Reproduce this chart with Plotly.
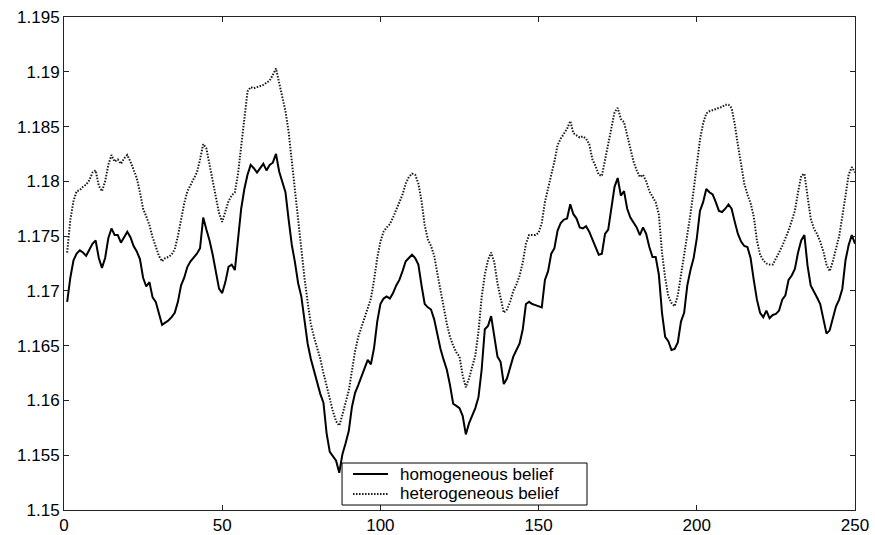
import plotly.graph_objects as go

# time index of the simulation
periods = list(range(1, 251))

# price path under homogeneous beliefs
homogeneous = [
    1.1690, 1.1712, 1.1728, 1.1734, 1.1737, 1.1735, 1.1732, 1.1737, 1.1743, 1.1746,
    1.1730, 1.1721, 1.1730, 1.1748, 1.1757, 1.1751, 1.1751, 1.1744, 1.1749, 1.1754,
    1.1749, 1.1741, 1.1736, 1.1729, 1.1712, 1.1704, 1.1708, 1.1694, 1.1690, 1.1680,
    1.1669, 1.1671, 1.1673, 1.1676, 1.1680, 1.1690, 1.1705, 1.1712, 1.1722, 1.1727,
    1.1730, 1.1734, 1.1739, 1.1767, 1.1756, 1.1746, 1.1733, 1.1716, 1.1702, 1.1698,
    1.1708, 1.1722, 1.1724, 1.1719, 1.1750, 1.1775, 1.1793, 1.1806, 1.1815, 1.1812,
    1.1808, 1.1812, 1.1816, 1.1810, 1.1815, 1.1817, 1.1825, 1.1809, 1.1800, 1.1790,
    1.1765, 1.1742, 1.1726, 1.1707, 1.1695, 1.1672, 1.1652, 1.1638, 1.1627, 1.1615,
    1.1606, 1.1598, 1.1570, 1.1553, 1.1549, 1.1545, 1.1534, 1.1551, 1.1561, 1.1572,
    1.1594, 1.1607, 1.1614, 1.1622, 1.1628, 1.1637, 1.1633, 1.1648, 1.1672, 1.1688,
    1.1693, 1.1695, 1.1693, 1.1698, 1.1705, 1.1710, 1.1718, 1.1727, 1.1730, 1.1733,
    1.1730, 1.1724, 1.1705, 1.1688, 1.1685, 1.1683, 1.1674, 1.1660, 1.1647, 1.1637,
    1.1628, 1.1614, 1.1597, 1.1595, 1.1593, 1.1586, 1.1569, 1.1579, 1.1587, 1.1593,
    1.1603, 1.1628, 1.1665, 1.1668, 1.1677, 1.1660, 1.1640, 1.1635, 1.1615, 1.1620,
    1.1630, 1.1640, 1.1646, 1.1652, 1.1665, 1.1688, 1.1690, 1.1688, 1.1687, 1.1686,
    1.1685, 1.1710, 1.1718, 1.1734, 1.1739, 1.1755, 1.1762, 1.1765, 1.1766, 1.1779,
    1.1770, 1.1766, 1.1758, 1.1757, 1.1759, 1.1754, 1.1747, 1.1740, 1.1733, 1.1734,
    1.1752, 1.1756, 1.1777, 1.1795, 1.1803, 1.1787, 1.1791, 1.1775, 1.1767, 1.1762,
    1.1758, 1.1751, 1.1758, 1.1752, 1.1740, 1.1731, 1.1731, 1.1715, 1.1680, 1.1658,
    1.1654, 1.1646, 1.1647, 1.1653, 1.1672, 1.1680, 1.1705, 1.1719, 1.1730, 1.1748,
    1.1773, 1.1781, 1.1793, 1.1790, 1.1788, 1.1781, 1.1773, 1.1772, 1.1775, 1.1779,
    1.1775, 1.1763, 1.1752, 1.1745, 1.1741, 1.1740, 1.1730, 1.1710, 1.1692, 1.1680,
    1.1676, 1.1682, 1.1675, 1.1678, 1.1679, 1.1682, 1.1692, 1.1696, 1.1710, 1.1714,
    1.1720, 1.1735, 1.1746, 1.1751, 1.1723, 1.1705, 1.1700, 1.1694, 1.1688, 1.1675,
    1.1661, 1.1664, 1.1675, 1.1686, 1.1692, 1.1702, 1.1728, 1.1742, 1.1751, 1.1743,
]

# price path under heterogeneous beliefs
heterogeneous = [
    1.1735, 1.1765, 1.1782, 1.1791, 1.1792, 1.1795, 1.1797, 1.1801, 1.1808, 1.1810,
    1.1796, 1.1791, 1.1800, 1.1815, 1.1824, 1.1818, 1.1820, 1.1816, 1.1821, 1.1824,
    1.1818, 1.1811, 1.1803, 1.1790, 1.1775, 1.1768, 1.1760, 1.1749, 1.1740, 1.1732,
    1.1727, 1.1730, 1.1731, 1.1733, 1.1738, 1.1750, 1.1765, 1.1780, 1.1791, 1.1797,
    1.1802, 1.1808, 1.1820, 1.1834, 1.1830, 1.1815, 1.1798, 1.1786, 1.1771, 1.1763,
    1.1772, 1.1782, 1.1787, 1.1790, 1.1807, 1.1832, 1.1862, 1.1882, 1.1886, 1.1885,
    1.1886, 1.1887, 1.1888, 1.1890, 1.1892, 1.1897, 1.1903, 1.1890, 1.1876, 1.1864,
    1.1845, 1.1818, 1.1790, 1.1762, 1.1736, 1.1712, 1.1690, 1.1670, 1.1658, 1.1648,
    1.1638, 1.1625, 1.1613, 1.1601, 1.1590, 1.1581, 1.1577, 1.1587, 1.1598, 1.1609,
    1.1627, 1.1645, 1.1658, 1.1667, 1.1675, 1.1683, 1.1693, 1.1710, 1.1730, 1.1745,
    1.1754, 1.1758, 1.1761, 1.1767, 1.1774, 1.1781, 1.1788, 1.1798, 1.1804, 1.1807,
    1.1806, 1.1798, 1.1782, 1.1760, 1.1747, 1.1741, 1.1732, 1.1716, 1.1700, 1.1685,
    1.1670, 1.1658, 1.1650, 1.1644, 1.1640, 1.1623, 1.1612, 1.1620, 1.1630, 1.1641,
    1.1663, 1.1694, 1.1715, 1.1728, 1.1735, 1.1726, 1.1707, 1.1692, 1.1680, 1.1683,
    1.1690, 1.1700, 1.1706, 1.1714, 1.1726, 1.1743, 1.1751, 1.1751, 1.1751, 1.1753,
    1.1762, 1.1781, 1.1795, 1.1806, 1.1818, 1.1833, 1.1839, 1.1843, 1.1848, 1.1855,
    1.1844, 1.1842, 1.1840, 1.1841, 1.1839, 1.1834, 1.1820, 1.1814, 1.1806, 1.1805,
    1.1820, 1.1834, 1.1848, 1.1863, 1.1867, 1.1857, 1.1854, 1.1842, 1.1829, 1.1818,
    1.1810, 1.1804, 1.1806, 1.1800, 1.1791, 1.1786, 1.1781, 1.1770, 1.1735, 1.1712,
    1.1695, 1.1689, 1.1686, 1.1696, 1.1714, 1.1730, 1.1750, 1.1770, 1.1792, 1.1818,
    1.1838, 1.1853, 1.1862, 1.1864, 1.1865, 1.1866, 1.1867, 1.1868, 1.1870, 1.1870,
    1.1867, 1.1852, 1.1833, 1.1816, 1.1798, 1.1788, 1.1780, 1.1768, 1.1746, 1.1733,
    1.1728, 1.1725, 1.1724, 1.1724, 1.1729, 1.1735, 1.1741, 1.1748, 1.1755, 1.1764,
    1.1773, 1.1790, 1.1805, 1.1807, 1.1786, 1.1766, 1.1757, 1.1752, 1.1745, 1.1736,
    1.1724, 1.1718, 1.1727, 1.1739, 1.1750, 1.1768, 1.1788, 1.1806, 1.1813, 1.1808,
]

series_names = ["homogeneous belief", "heterogeneous belief"]

x_ticks = [0, 50, 100, 150, 200, 250]
x_tick_labels = ["0", "50", "100", "150", "200", "250"]
y_ticks = [1.15, 1.155, 1.16, 1.165, 1.17, 1.175, 1.18, 1.185, 1.19, 1.195]
y_tick_labels = ["1.15", "1.155", "1.16", "1.165", "1.17", "1.175", "1.18", "1.185", "1.19", "1.195"]

FONT = "Liberation Sans, Arial, sans-serif"
solid_style = dict(color="black", width=2)
dotted_style = dict(color="#1a1a1a", width=2, dash="1.5px,1.5px")

fig = go.Figure()
fig.add_trace(go.Scatter(x=periods, y=homogeneous, mode="lines",
                         name=series_names[0], line=solid_style))
fig.add_trace(go.Scatter(x=periods, y=heterogeneous, mode="lines",
                         name=series_names[1], line=dotted_style))

axis_common = dict(
    showline=True, linecolor="#222222", linewidth=1, mirror="ticks",
    ticks="inside", ticklen=5, tickcolor="#222222", showgrid=False, zeroline=False,
    tickfont=dict(family=FONT, size=17, color="black"), automargin=False,
)
fig.update_xaxes(range=[0, 250], tickvals=x_ticks, ticktext=x_tick_labels, **axis_common)
fig.update_yaxes(range=[1.15, 1.195], tickvals=y_ticks, ticktext=y_tick_labels, **axis_common)

# compact boxed legend in the lower middle of the axes (paper coordinates)
box_x0, box_x1 = 0.3515, 0.6612
box_y0, box_y1 = 0.0101, 0.0953
sample_x0, sample_x1 = 0.3654, 0.4096
text_x = 0.4235
row_y = [0.0730, 0.0325]

shapes = [dict(type="rect", xref="paper", yref="paper",
               x0=box_x0, x1=box_x1, y0=box_y0, y1=box_y1,
               line=dict(color="black", width=1), fillcolor="white", layer="above")]
annotations = []
for name, style, yy in zip(series_names, [solid_style, dotted_style], row_y):
    shapes.append(dict(type="line", xref="paper", yref="paper",
                       x0=sample_x0, x1=sample_x1, y0=yy, y1=yy,
                       line=style, layer="above"))
    annotations.append(dict(xref="paper", yref="paper", x=text_x, y=yy,
                            xanchor="left", yanchor="middle", showarrow=False,
                            borderpad=0,
                            text=name, font=dict(family=FONT, size=17, color="black")))

fig.update_layout(
    width=875, height=535,
    margin=dict(l=64, r=20, t=17, b=25),
    paper_bgcolor="white", plot_bgcolor="white",
    showlegend=False,
    shapes=shapes,
    annotations=annotations,
)

fig.write_html("out.html")
